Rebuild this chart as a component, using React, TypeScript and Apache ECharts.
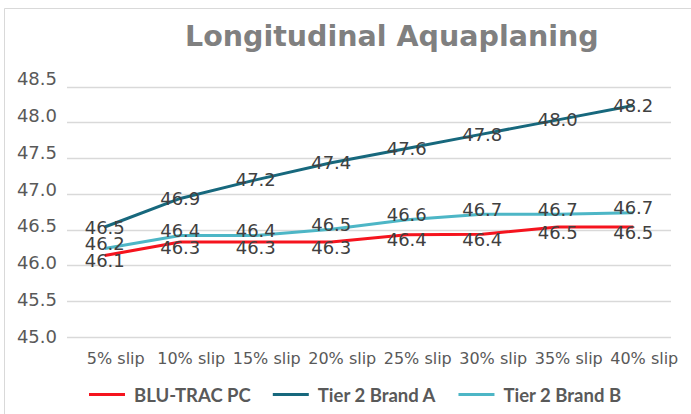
import React, { useEffect, useRef } from "react";
import * as echarts from "echarts";

const categories = ["5% slip", "10% slip", "15% slip", "20% slip", "25% slip", "30% slip", "35% slip", "40% slip"];
const bluTrac = [46.14, 46.33, 46.33, 46.33, 46.43, 46.44, 46.54, 46.54];
const brandA = [46.54, 46.94, 47.2, 47.44, 47.64, 47.84, 48.04, 48.24];
const brandB = [46.24, 46.42, 46.42, 46.51, 46.64, 46.72, 46.72, 46.74];
const seriesNames = ["BLU-TRAC PC", "Tier 2 Brand A", "Tier 2 Brand B"];
const seriesColors = ["#f5141e", "#17687d", "#4db6c6"];
const yMin = 45.0;
const yMax = 48.5;
const yStep = 0.5;

export default function App() {
  const ref = useRef<HTMLDivElement>(null);
  useEffect(() => {
    if (!ref.current) return;
    const chart = echarts.init(ref.current, undefined, { renderer: "svg" });
    const seriesData = [bluTrac, brandA, brandB];
    const labelOffsets = [[0, 5], [0, 0], [0, -5]];
    chart.setOption({
      animation: false,
      backgroundColor: "#ffffff",
      title: {
        text: "Longitudinal Aquaplaning",
        left: 180,
        top: 17,
        textStyle: { fontFamily: "DejaVu Sans", fontWeight: "bold", fontSize: 28.5, color: "#808080" },
      },
      graphic: [
        {
          type: "rect",
          shape: { x: 4.5, y: 8.5, width: 720, height: 440 },
          style: { fill: "none", stroke: "#d9d9d9", lineWidth: 1 },
          silent: true,
        },
      ],
      legend: {
        data: seriesNames,
        left: 84,
        top: 380,
        icon: "rect",
        itemWidth: 36,
        itemHeight: 3,
        itemGap: 22,
        textStyle: { fontFamily: "Lato", fontWeight: "bold", fontSize: 18.5, color: "#595959", padding: [0, 0, 0, 4] },
      },
      grid: [
        { left: 67, right: 20, top: 87, bottom: 77, containLabel: false },
        { left: 67, right: 20, top: 78.3, bottom: 77.3, containLabel: false },
      ],
      xAxis: [
        {
          type: "category",
          gridIndex: 0,
          data: categories,
          boundaryGap: true,
          axisLine: { show: false },
          axisTick: { show: false },
          axisLabel: {
            interval: 0,
            margin: 13,
            fontFamily: "DejaVu Sans",
            fontSize: 16,
            color: "#595959",
            padding: [0, 0, 0, 22],
          },
        },
        { type: "category", gridIndex: 1, data: categories, show: false },
      ],
      yAxis: [
        {
          type: "value",
          gridIndex: 0,
          min: yMin,
          max: yMax,
          interval: yStep,
          axisLine: { show: false },
          axisTick: { show: false },
          axisLabel: { show: false },
          splitLine: { show: true, lineStyle: { color: "#d9d9d9", width: 1.3 } },
        },
        {
          type: "value",
          gridIndex: 1,
          min: yMin,
          max: yMax,
          interval: yStep,
          axisLine: { show: false },
          axisTick: { show: false },
          splitLine: { show: false },
          axisLabel: {
            margin: 10,
            fontFamily: "DejaVu Sans",
            fontSize: 18,
            color: "#595959",
            formatter: (v: number) => v.toFixed(1),
          },
        },
      ],
      series: seriesNames.map((name, i) => ({
        name,
        type: "line",
        xAxisIndex: 0,
        yAxisIndex: 0,
        data: seriesData[i],
        symbol: "circle",
        symbolSize: 1,
        itemStyle: { color: seriesColors[i] },
        lineStyle: { color: seriesColors[i], width: 3 },
        label: {
          show: true,
          position: "inside",
          offset: labelOffsets[i],
          fontFamily: "DejaVu Sans",
          fontSize: 18,
          color: "#404040",
          formatter: (p: any) => (p.value as number).toFixed(1),
        },
        z: 2 + i,
      })),
    });
    return () => chart.dispose();
  }, []);
  return <div ref={ref} style={{ position: "fixed", left: 0, top: 0, width: 691, height: 414 }} />;
}
